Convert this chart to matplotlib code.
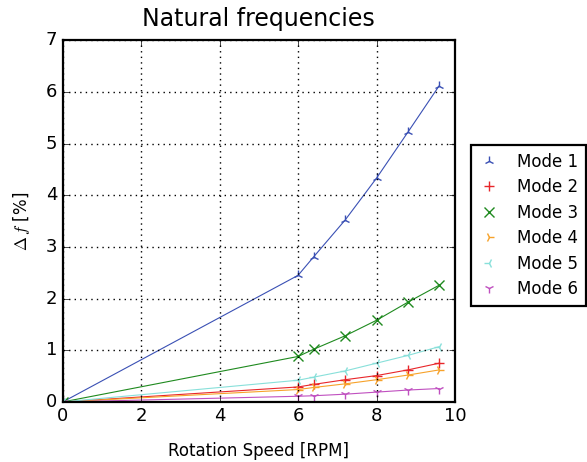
import numpy as np
import matplotlib
matplotlib.use('Agg')
import matplotlib.pyplot as plt
from matplotlib.lines import Line2D

# rotation speeds [RPM]
speed = [0, 6, 6.4, 7.2, 8, 8.8, 9.6]

# frequency change per mode [%]
mode1 = [0, 2.45, 2.81, 3.52, 4.33, 5.22, 6.12]
mode2 = [0, 0.29, 0.34, 0.43, 0.51, 0.62, 0.75]
mode3 = [0, 0.88, 1.02, 1.28, 1.58, 1.93, 2.26]
mode4 = [0, 0.24, 0.28, 0.35, 0.43, 0.52, 0.62]
mode5 = [0, 0.42, 0.48, 0.60, 0.75, 0.90, 1.07]
mode6 = [0, 0.11, 0.12, 0.15, 0.19, 0.23, 0.26]

labels = ['Mode 1', 'Mode 2', 'Mode 3', 'Mode 4', 'Mode 5', 'Mode 6']
markers = ['2', '+', 'x', '4', '3', '1']
colors = ['#3a50b4', '#e8262a', '#1f8a1f', '#f7a22a', '#88e0da', '#c050c0']

plt.style.use('classic')
plt.rcParams['font.family'] = 'DejaVu Sans'
plt.rcParams['axes.linewidth'] = 1.6

fig = plt.figure(figsize=(5.87, 4.62), dpi=100, facecolor='white')
ax = fig.add_axes([0.107, 0.13, 0.668, 0.783])

modes = [mode1, mode2, mode3, mode4, mode5, mode6]
handles = []
for vals, lab, mk, col in zip(modes, labels, markers, colors):
	ax.plot(speed, vals, color=col, marker=mk, markersize=7, markeredgewidth=1,
			markeredgecolor=col, linewidth=0.8)
	# legend shows only the marker
	handles.append(Line2D([], [], linestyle='none', marker=mk, markersize=7,
						  markeredgewidth=1, color=col, markeredgecolor=col, label=lab))

ax.set_xlim(0, 10)
ax.set_ylim(0, 7)
ax.grid(True, color='k', linestyle=':', linewidth=1)
ax.tick_params(labelsize=13)
ax.set_xlabel('Rotation Speed [RPM]', fontsize=12, labelpad=12)
ax.set_ylabel(r'$\Delta\, f$ [%]', fontsize=12, labelpad=10)
ax.set_title('Natural frequencies', fontsize=17, y=1.02)

leg = ax.legend(handles=handles, loc='center left', bbox_to_anchor=(1.02, 0.488),
				numpoints=1, fontsize=12, frameon=True, fancybox=False,
				handlelength=1.3, handletextpad=1.0, borderpad=0.45,
				labelspacing=0.45)
leg.get_frame().set_edgecolor('k')
leg.get_frame().set_linewidth(1.6)

fig.savefig('out.png', dpi=100, facecolor='white')
